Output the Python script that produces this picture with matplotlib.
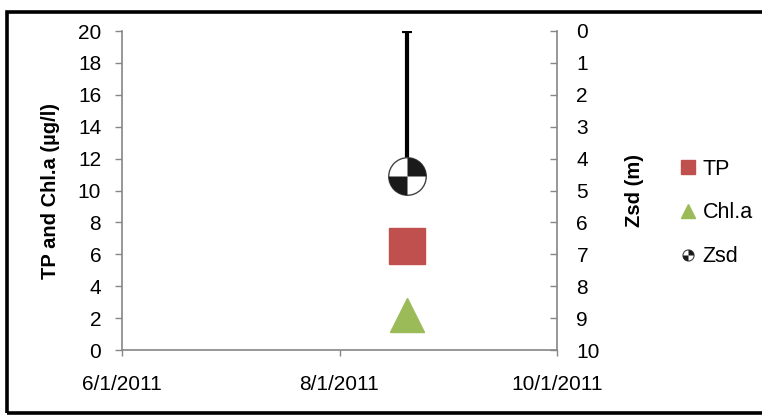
import datetime as dt

import matplotlib
matplotlib.use("Agg")
import matplotlib.dates as mdates
import matplotlib.pyplot as plt
from matplotlib.legend_handler import HandlerTuple
from matplotlib.lines import Line2D
from matplotlib.patches import Rectangle
from matplotlib.path import Path
from matplotlib.ticker import FuncFormatter

# data
sample_date = [dt.date(2011, 8, 20)]
tp = [6.5]
chla = [2.2]
zsd = [4.56]
zsd_err_up = [4.56]   # bar reaches the surface (0 m)

x_ticks = [dt.date(2011, 6, 1), dt.date(2011, 8, 1), dt.date(2011, 10, 1)]
left_ticks = list(range(0, 21, 2))
right_ticks = list(range(0, 11))

TICK_FONT = ["Liberation Sans Narrow", "Liberation Sans", "DejaVu Sans"]
LABEL_FONT = ["Liberation Sans", "DejaVu Sans"]
AXIS_GREY = "#868686"
TP_RED = "#C0504D"
CHLA_GREEN = "#9BBB59"

plt.rcParams["font.family"] = TICK_FONT

fig = plt.figure(figsize=(7.62, 4.2), dpi=100)
ax = fig.add_axes([122 / 762, 1 - 350 / 420, (557 - 122) / 762, (350 - 31) / 420])
ax2 = ax.twinx()

# outer frame of the chart area
fig.patches.append(Rectangle((7 / 762, 7 / 420), 1.2, 401 / 420, transform=fig.transFigure,
                             fill=False, edgecolor="black", linewidth=2.6, zorder=10))

ax.plot(sample_date, tp, linestyle="none", marker="s", markersize=26, color=TP_RED)
ax.plot(sample_date, chla, linestyle="none", marker="^", markersize=25, color=CHLA_GREEN)

ax2.errorbar(sample_date, zsd, yerr=[zsd_err_up, [0]], fmt="none", ecolor="black",
             elinewidth=3, capsize=3.6, capthick=3, zorder=2)
quarter_a = Path.wedge(0, 90)
quarter_b = Path.wedge(180, 270)
ax2.plot(sample_date, zsd, linestyle="none", marker="o", markersize=27,
         markerfacecolor="white", markeredgecolor="#444444", markeredgewidth=1, zorder=3)
ax2.plot(sample_date, zsd, linestyle="none", marker=quarter_a, markersize=27,
         color="#1a1a1a", markeredgewidth=0, zorder=4)
ax2.plot(sample_date, zsd, linestyle="none", marker=quarter_b, markersize=27,
         color="#1a1a1a", markeredgewidth=0, zorder=4)

ax.set_xlim(x_ticks[0], x_ticks[-1])
ax.set_ylim(0, 20)
ax2.set_ylim(10, 0)
ax.set_xticks(x_ticks)
ax.xaxis.set_major_formatter(FuncFormatter(
    lambda v, pos: (lambda d: f"{d.month}/{d.day}/{d.year}")(mdates.num2date(v))))
ax.set_yticks(left_ticks)
ax2.set_yticks(right_ticks)

for a in (ax, ax2):
    a.spines["top"].set_visible(False)
    for s in a.spines.values():
        s.set_color(AXIS_GREY)
        s.set_linewidth(1.2)
ax.spines["right"].set_visible(False)
ax2.spines["left"].set_visible(False)
ax2.spines["bottom"].set_visible(False)

ax.tick_params(axis="y", direction="out", length=5, width=1, color=AXIS_GREY,
               labelsize=15, pad=10)
ax.tick_params(axis="x", direction="out", length=4, width=1, color=AXIS_GREY,
               labelsize=15, pad=14)
ax2.tick_params(axis="y", direction="in", length=5, width=1, color=AXIS_GREY,
                labelsize=15, pad=14)

ax.set_ylabel("TP and Chl.a (µg/l)", family=LABEL_FONT, fontweight="bold",
              fontsize=14.5, labelpad=13)
ax2.set_ylabel("Zsd (m)", family=LABEL_FONT, fontweight="bold", fontsize=14.5, labelpad=18)

h_tp = Line2D([], [], linestyle="none", marker="s", markersize=10, color=TP_RED)
h_chla = Line2D([], [], linestyle="none", marker="^", markersize=10, color=CHLA_GREEN)
h_z0 = Line2D([], [], linestyle="none", marker="o", markersize=8,
              markerfacecolor="white", markeredgecolor="#444444", markeredgewidth=0.8)
h_z1 = Line2D([], [], linestyle="none", marker=quarter_a, markersize=8,
              color="#1a1a1a", markeredgewidth=0)
h_z2 = Line2D([], [], linestyle="none", marker=quarter_b, markersize=8,
              color="#1a1a1a", markeredgewidth=0)
fig.legend([h_tp, h_chla, (h_z0, h_z1, h_z2)], ["TP", "Chl.a", "Zsd"],
           handler_map={tuple: HandlerTuple(ndivide=1)},
           loc="center left", bbox_to_anchor=(679 / 762, 1 - 213 / 420),
           frameon=False, fontsize=15.5, handlelength=0.8, handletextpad=0.3,
           labelspacing=1.05, borderpad=0, borderaxespad=0)

fig.savefig("out.png", dpi=100, facecolor="white")
